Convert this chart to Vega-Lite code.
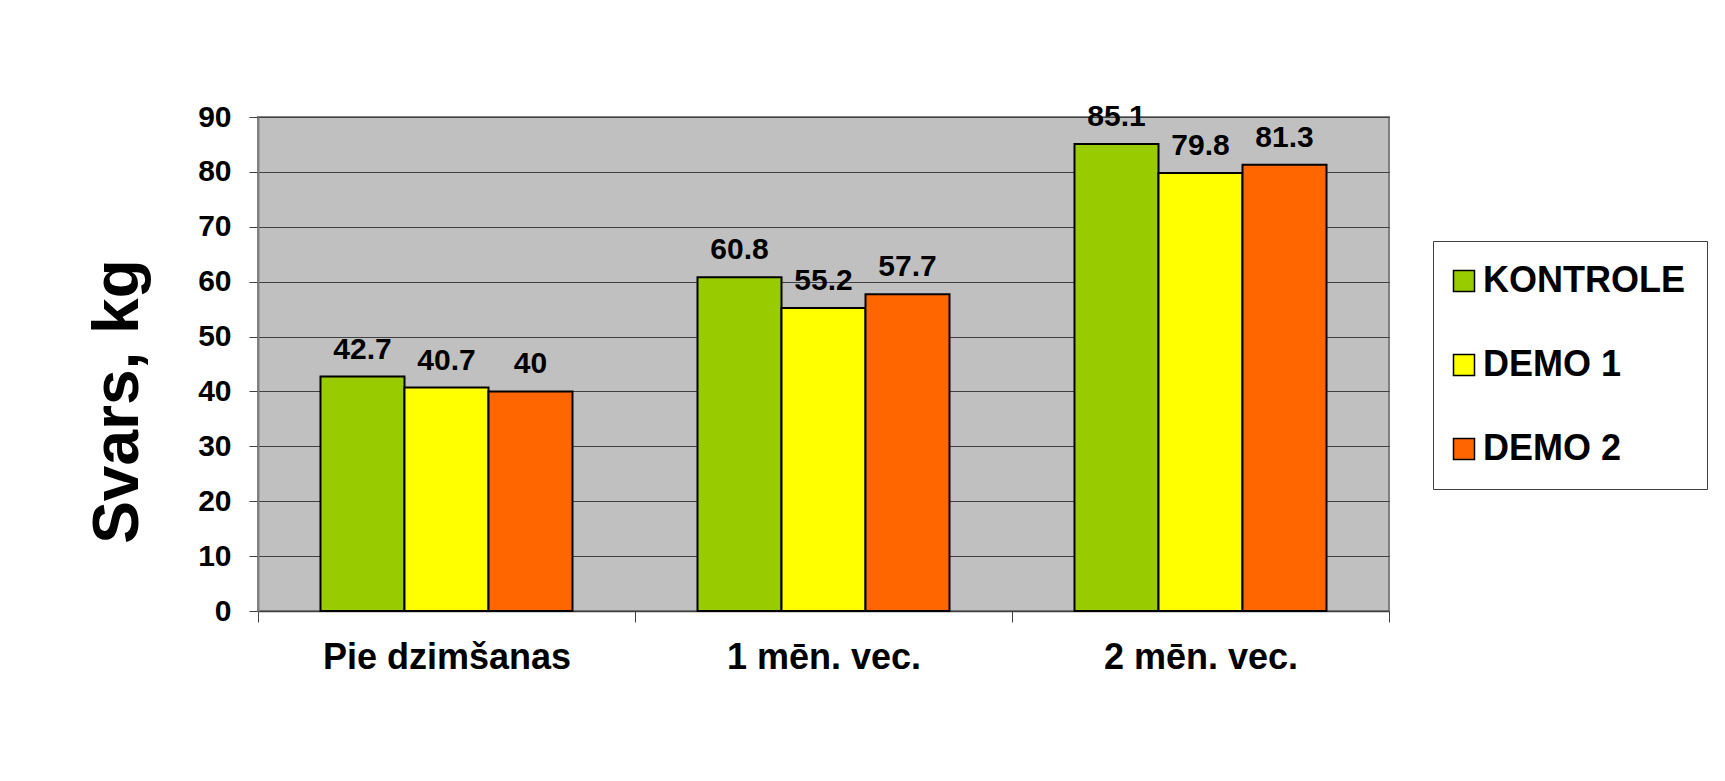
{
  "$schema": "https://vega.github.io/schema/vega-lite/v6.json",
  "autosize": {"type": "none"},
  "width": 1131,
  "height": 494,
  "padding": {"left": 258, "top": 117, "right": 336, "bottom": 170},
  "background": "white",
  "config": {
    "font": "Liberation Sans",
    "view": {"fill": "#C0C0C0", "stroke": "#808080", "strokeWidth": 2}
  },
  "data": {
    "values": [
      {"cat": "Pie dzimšanas", "grp": "KONTROLE", "v": 42.7},
      {"cat": "Pie dzimšanas", "grp": "DEMO 1", "v": 40.7},
      {"cat": "Pie dzimšanas", "grp": "DEMO 2", "v": 40},
      {"cat": "1 mēn. vec.", "grp": "KONTROLE", "v": 60.8},
      {"cat": "1 mēn. vec.", "grp": "DEMO 1", "v": 55.2},
      {"cat": "1 mēn. vec.", "grp": "DEMO 2", "v": 57.7},
      {"cat": "2 mēn. vec.", "grp": "KONTROLE", "v": 85.1},
      {"cat": "2 mēn. vec.", "grp": "DEMO 1", "v": 79.8},
      {"cat": "2 mēn. vec.", "grp": "DEMO 2", "v": 81.3}
    ]
  },
  "encoding": {
    "x": {
      "field": "cat",
      "type": "nominal",
      "sort": ["Pie dzimšanas", "1 mēn. vec.", "2 mēn. vec."],
      "scale": {"paddingInner": 0, "paddingOuter": 0},
      "axis": {
        "title": null,
        "labelAngle": 0,
        "labelLimit": 0,
        "labelFontSize": 36,
        "labelFontWeight": "bold",
        "labelColor": "black",
        "labelPadding": 18,
        "labelBaseline": "top",
        "tickBand": "extent",
        "tickSize": 11,
        "tickColor": "#404040",
        "tickWidth": 1,
        "domainColor": "#404040",
        "domainWidth": 1.5,
        "grid": false
      }
    },
    "y": {
      "field": "v",
      "type": "quantitative",
      "scale": {"domain": [0, 90], "nice": false},
      "axis": {
        "values": [0, 10, 20, 30, 40, 50, 60, 70, 80, 90],
        "grid": true,
        "gridColor": "#404040",
        "gridWidth": 1,
        "tickColor": "#404040",
        "tickSize": 9,
        "domainColor": "#808080",
        "domainWidth": 2,
        "labelFontSize": 30,
        "labelFontWeight": "bold",
        "labelColor": "black",
        "labelPadding": 18,
        "labelLimit": 0,
        "title": "Svars, kg",
        "titleFontSize": 64,
        "titleFontWeight": "bold",
        "titleColor": "black",
        "titleX": -121,
        "titleY": 284,
        "titleAngle": 270,
        "titleAlign": "center",
        "titleBaseline": "alphabetic",
        "titleLimit": 0
      }
    },
    "xOffset": {
      "field": "grp",
      "type": "nominal",
      "sort": ["KONTROLE", "DEMO 1", "DEMO 2"],
      "scale": {"paddingInner": 0, "paddingOuter": 0.744}
    }
  },
  "layer": [
    {
      "mark": {"type": "bar", "stroke": "black", "strokeWidth": 2},
      "encoding": {
        "color": {
          "field": "grp",
          "type": "nominal",
          "sort": ["KONTROLE", "DEMO 1", "DEMO 2"],
          "scale": {"domain": ["KONTROLE", "DEMO 1", "DEMO 2"], "range": ["#99CC00", "#FFFF00", "#FF6600"]},
          "legend": {
            "title": null,
            "orient": "none",
            "legendX": 1175,
            "legendY": 124,
            "strokeColor": "#404040",
            "fillColor": "white",
            "padding": 22,
            "labelFontSize": 36,
            "labelFontWeight": "bold",
            "labelColor": "black",
            "labelLimit": 0,
            "symbolType": "square",
            "symbolSize": 441,
            "symbolStrokeColor": "black",
            "symbolStrokeWidth": 1.5,
            "symbolOpacity": 1,
            "symbolOffset": -9,
            "rowPadding": 48,
            "labelOffset": 1
          }
        }
      }
    },
    {
      "mark": {"type": "text", "fontSize": 30, "fontWeight": "bold", "color": "black", "baseline": "alphabetic", "align": "center", "dy": -18},
      "encoding": {
        "text": {"field": "v", "type": "nominal"}
      }
    }
  ]
}
